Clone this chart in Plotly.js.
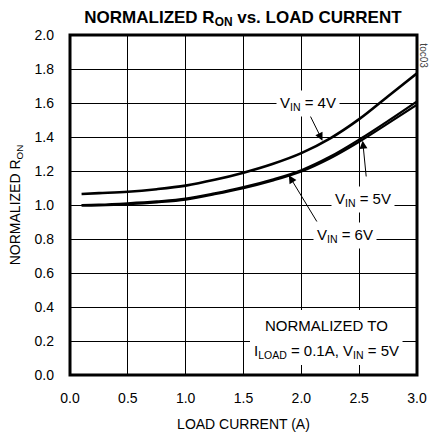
<!DOCTYPE html>
<html>
<head>
<meta charset="utf-8">
<script src="https://cdn.plot.ly/plotly-3.0.1.min.js"></script>
<style>html,body{margin:0;padding:0;background:#fff;}#chart{width:430px;height:441px;}</style>
</head>
<body>
<div id="chart"></div>
<script>
const loadCurrent = [0.1, 0.25, 0.5, 0.75, 1.0, 1.25, 1.5, 1.75, 2.0, 2.25, 2.5, 2.75, 3.0];
const ron4V = [1.065, 1.070, 1.078, 1.093, 1.114, 1.148, 1.190, 1.241, 1.305, 1.392, 1.505, 1.640, 1.775];
const ron5V = [1.000, 1.002, 1.010, 1.021, 1.037, 1.068, 1.105, 1.150, 1.205, 1.285, 1.385, 1.495, 1.610];
const ron6V = [0.996, 0.998, 1.005, 1.016, 1.032, 1.063, 1.099, 1.143, 1.197, 1.275, 1.372, 1.480, 1.590];
const xTicks = [0, 0.5, 1.0, 1.5, 2.0, 2.5, 3.0];
const xTickText = ['0.0', '0.5', '1.0', '1.5', '2.0', '2.5', '3.0'];
const yTicks = [0, 0.2, 0.4, 0.6, 0.8, 1.0, 1.2, 1.4, 1.6, 1.8, 2.0];
const yTickText = ['0.0', '0.2', '0.4', '0.6', '0.8', '1.0', '1.2', '1.4', '1.6', '1.8', '2.0'];

const FONT = '"Liberation Sans Narrow", "Arial Narrow", "Liberation Sans", Arial, sans-serif';

const traces = [
  {x: loadCurrent, y: ron4V, mode: 'lines', line: {color: '#000', width: 2.6, shape: 'spline'}, name: 'VIN=4V'},
  {x: loadCurrent, y: ron5V, mode: 'lines', line: {color: '#000', width: 2.2, shape: 'spline'}, name: 'VIN=5V'},
  {x: loadCurrent, y: ron6V, mode: 'lines', line: {color: '#000', width: 2.2, shape: 'spline'}, name: 'VIN=6V'}
];

const annFont = {family: FONT, size: 15, color: '#000'};
function arrow(x0, y0, x1, y1) {
  return {x: x1, y: y1, ax: x0, ay: y0, xref: 'x', yref: 'y', axref: 'x', ayref: 'y',
    text: '', showarrow: true, arrowhead: 2, arrowsize: 1.6, arrowwidth: 1, arrowcolor: '#000', standoff: 0, startstandoff: 0};
}
const annotations = [
  {x: 2.056, y: 1.6, xref: 'x', yref: 'y', text: 'V<sub>IN</sub> = 4V', showarrow: false, font: annFont, bgcolor: '#fff', borderpad: 3},
  {x: 2.53, y: 1.03, xref: 'x', yref: 'y', text: 'V<sub>IN</sub> = 5V', showarrow: false, font: annFont, bgcolor: '#fff', borderpad: 3},
  {x: 2.375, y: 0.82, xref: 'x', yref: 'y', text: 'V<sub>IN</sub> = 6V', showarrow: false, font: annFont, bgcolor: '#fff', borderpad: 3},
  {x: 2.215, y: 0.294, xref: 'x', yref: 'y', text: 'NORMALIZED TO', showarrow: false, font: annFont},
  {x: 2.215, y: 0.138, xref: 'x', yref: 'y', text: 'I<sub>LOAD</sub> = 0.1A, V<sub>IN</sub> = 5V', showarrow: false, font: annFont},
  arrow(2.073, 1.529, 2.183, 1.378),
  arrow(2.562, 1.159, 2.530, 1.378),
  arrow(2.142, 0.894, 1.892, 1.175),
  {x: 1.02, y: 0.98, xref: 'paper', yref: 'paper', text: 'toc03', showarrow: false, textangle: 90,
    font: {family: FONT, size: 10, color: '#444'}, xanchor: 'center', yanchor: 'top'}
];

const layout = {
  width: 430, height: 441,
  margin: {l: 69.5, r: 13, t: 35, b: 66},
  paper_bgcolor: '#fff', plot_bgcolor: '#fff',
  showlegend: false,
  font: {family: FONT, size: 14, color: '#000'},
  title: {text: '<b>NORMALIZED R<sub>ON</sub> vs. LOAD CURRENT</b>', font: {family: FONT, size: 17, color: '#000'},
    x: 0.565, xanchor: 'center', y: 0.975, yanchor: 'top'},
  xaxis: {range: [0, 3], tickvals: xTicks, ticktext: xTickText, showgrid: true, gridcolor: '#000', gridwidth: 1,
    zeroline: false, showline: false, ticks: '', ticklabelstandoff: 13,
    title: {text: 'LOAD CURRENT (A)', font: {family: FONT, size: 14, color: '#000'}, standoff: 14}},
  yaxis: {range: [0, 2], tickvals: yTicks, ticktext: yTickText, showgrid: true, gridcolor: '#000', gridwidth: 1,
    zeroline: false, showline: false, ticks: '', ticklabelstandoff: 15,
    title: {text: 'NORMALIZED R<sub>ON</sub>', font: {family: FONT, size: 14, color: '#000'}, standoff: 10}},
  shapes: [
    {type: 'rect', xref: 'x', yref: 'y', x0: 1.556, x1: 2.875, y0: 0.059, y1: 0.382, fillcolor: '#fff', line: {width: 0}, layer: 'above'},
    {type: 'rect', xref: 'paper', yref: 'paper', x0: 0, x1: 1, y0: 0, y1: 1, line: {color: '#000', width: 3}, layer: 'above'}
  ],
  annotations: annotations
};

Plotly.newPlot('chart', traces, layout, {staticPlot: true, displayModeBar: false});
</script>
</body>
</html>
